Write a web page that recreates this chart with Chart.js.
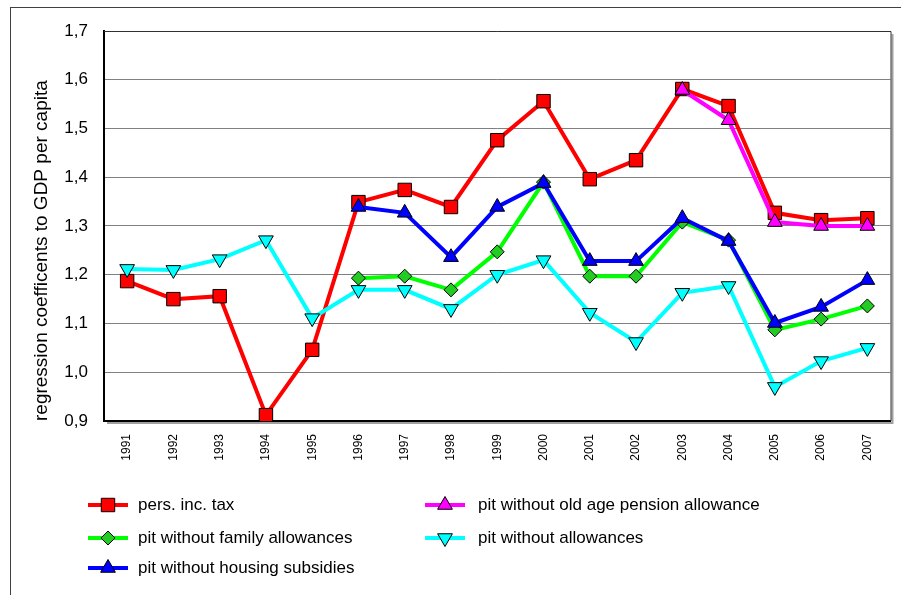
<!DOCTYPE html>
<html>
<head>
<meta charset="utf-8">
<script src="https://cdn.jsdelivr.net/npm/chart.js@4.4.0/dist/chart.umd.min.js"></script>
<style>
  body { margin: 0; background: #fff; }
  canvas { display: block; }
</style>
</head>
<body>
<canvas id="chart" width="901" height="595"></canvas>
<script>
// values
const years = ['1991', '1992', '1993', '1994', '1995', '1996', '1997', '1998', '1999',
  '2000', '2001', '2002', '2003', '2004', '2005', '2006', '2007'];

const persIncTax = [1.187, 1.150, 1.156, 0.912, 1.046, 1.349, 1.374, 1.339, 1.476,
  1.556, 1.396, 1.435, 1.581, 1.546, 1.327, 1.312, 1.316];
const pitNoOldAge = [null, null, null, null, null, null, null, null, null,
  null, null, null, 1.579, 1.517, 1.308, 1.300, 1.300];
const pitNoFamily = [null, null, null, null, null, 1.193, 1.197, 1.169, 1.247,
  1.390, 1.197, 1.197, 1.308, 1.271, 1.087, 1.109, 1.136];
const pitNoAllowances = [1.212, 1.210, 1.232, 1.271, 1.111, 1.169, 1.169, 1.130, 1.200,
  1.230, 1.122, 1.062, 1.163, 1.177, 0.970, 1.023, 1.050];
const pitNoHousing = [null, null, null, null, null, 1.339, 1.327, 1.236, 1.339,
  1.388, 1.228, 1.228, 1.316, 1.269, 1.101, 1.134, 1.189];

const seriesNames = ['pers. inc. tax', 'pit without old age pension allowance',
  'pit without family allowances', 'pit without allowances', 'pit without housing subsidies'];

const yTitle = 'regression coefficents to GDP per capita';
const FONT = "'Liberation Sans', Arial, sans-serif";

function series(label, data, line, fill, style, radius, rot, order) {
  return {
    label: label,
    data: data,
    borderColor: line,
    backgroundColor: line,
    borderWidth: 4,
    pointStyle: style,
    pointRadius: radius,
    pointRotation: rot,
    pointBackgroundColor: fill,
    pointBorderColor: '#000',
    pointBorderWidth: 1,
    pointHoverRadius: radius,
    tension: 0,
    spanGaps: false,
    order: order
  };
}

// outer frame + white background
const frame = {
  id: 'frame',
  beforeDraw(chart) {
    const ctx = chart.ctx;
    ctx.save();
    ctx.fillStyle = '#fff';
    ctx.fillRect(0, 0, chart.width, chart.height);
    ctx.strokeStyle = '#404040';
    ctx.lineWidth = 1;
    ctx.strokeRect(10.5, 7.5, 1000, 1000);
    ctx.restore();
  }
};

// top/right border of the plot area with a little shadow
const plotBorder = {
  id: 'plotBorder',
  beforeDatasetsDraw(chart) {
    const a = chart.chartArea;
    const ctx = chart.ctx;
    ctx.save();
    ctx.strokeStyle = '#a0a0a0';
    ctx.lineWidth = 2;
    ctx.beginPath();
    ctx.moveTo(a.right + 2, a.top + 3);
    ctx.lineTo(a.right + 2, a.bottom + 2);
    ctx.lineTo(a.left + 3, a.bottom + 2);
    ctx.stroke();
    ctx.strokeStyle = '#303030';
    ctx.lineWidth = 1;
    ctx.beginPath();
    ctx.moveTo(a.left, a.top + 0.5);
    ctx.lineTo(a.right + 0.5, a.top + 0.5);
    ctx.lineTo(a.right + 0.5, a.bottom);
    ctx.stroke();
    ctx.restore();
  }
};

// two-column legend under the chart
const legendGrid = {
  id: 'legendGrid',
  afterDraw(chart) {
    const ctx = chart.ctx;
    const colLine = [88, 425];
    const colText = [138, 478];
    const rows = [505, 538, 568];
    const slots = [[0, 0], [1, 0], [0, 1], [1, 1], [0, 2]];
    ctx.save();
    chart.data.datasets.forEach((ds, i) => {
      const [c, r] = slots[i];
      const x0 = colLine[c];
      const y = rows[r];
      ctx.strokeStyle = ds.borderColor;
      ctx.lineWidth = 4;
      ctx.beginPath();
      ctx.moveTo(x0, y);
      ctx.lineTo(x0 + 40, y);
      ctx.stroke();
      ctx.fillStyle = ds.pointBackgroundColor;
      ctx.strokeStyle = '#000';
      ctx.lineWidth = 1;
      if (Chart.helpers && Chart.helpers.drawPoint) {
        Chart.helpers.drawPoint(ctx, {
          pointStyle: ds.pointStyle,
          rotation: ds.pointRotation,
          radius: ds.pointRadius,
          borderWidth: 1
        }, x0 + 20, y);
      } else {
        ctx.fillRect(x0 + 14, y - 6, 12, 12);
        ctx.strokeRect(x0 + 14, y - 6, 12, 12);
      }
      ctx.fillStyle = '#000';
      ctx.font = '17px ' + FONT;
      ctx.textBaseline = 'middle';
      ctx.textAlign = 'left';
      ctx.fillText(ds.label, colText[c], y);
    });
    ctx.restore();
  }
};

new Chart(document.getElementById('chart'), {
  type: 'line',
  data: {
    labels: years,
    datasets: [
      series(seriesNames[0], persIncTax, '#ff0000', '#ff0000', 'rect', 9.5, 0, 4),
      series(seriesNames[1], pitNoOldAge, '#ff00ff', '#ff00ff', 'triangle', 8.5, 0, 3),
      series(seriesNames[2], pitNoFamily, '#00ff00', '#22cc22', 'rectRot', 7, 0, 2),
      series(seriesNames[3], pitNoAllowances, '#00ffff', '#00ffff', 'triangle', 8.5, 180, 1),
      series(seriesNames[4], pitNoHousing, '#0000ff', '#0000ff', 'triangle', 8.5, 0, 0)
    ]
  },
  options: {
    responsive: false,
    animation: false,
    layout: { padding: { left: 10, top: 31, right: 10, bottom: 0 } },
    plugins: {
      legend: { display: false },
      tooltip: { enabled: false }
    },
    scales: {
      x: {
        offset: true,
        grid: { display: false, drawTicks: false },
        border: { display: true, color: '#000', width: 2 },
        ticks: {
          color: '#000',
          font: { family: FONT, size: 12 },
          minRotation: 90,
          maxRotation: 90,
          padding: 13,
          autoSkip: false
        },
        afterFit(scale) { scale.height = 174; }
      },
      y: {
        min: 0.9,
        max: 1.7,
        grid: { color: '#808080', lineWidth: 1, drawTicks: false },
        border: { display: true, color: '#000', width: 2 },
        ticks: {
          stepSize: 0.1,
          color: '#000',
          padding: 16,
          font: { family: FONT, size: 17 },
          callback: v => Number(v).toFixed(1).replace('.', ',')
        },
        title: {
          display: true,
          text: yTitle,
          color: '#000',
          align: 'start',
          font: { family: FONT, size: 19 },
          padding: { top: 20, bottom: 0 }
        },
        afterFit(scale) { scale.width = 94; }
      }
    }
  },
  plugins: [frame, plotBorder, legendGrid]
});
</script>
</body>
</html>
